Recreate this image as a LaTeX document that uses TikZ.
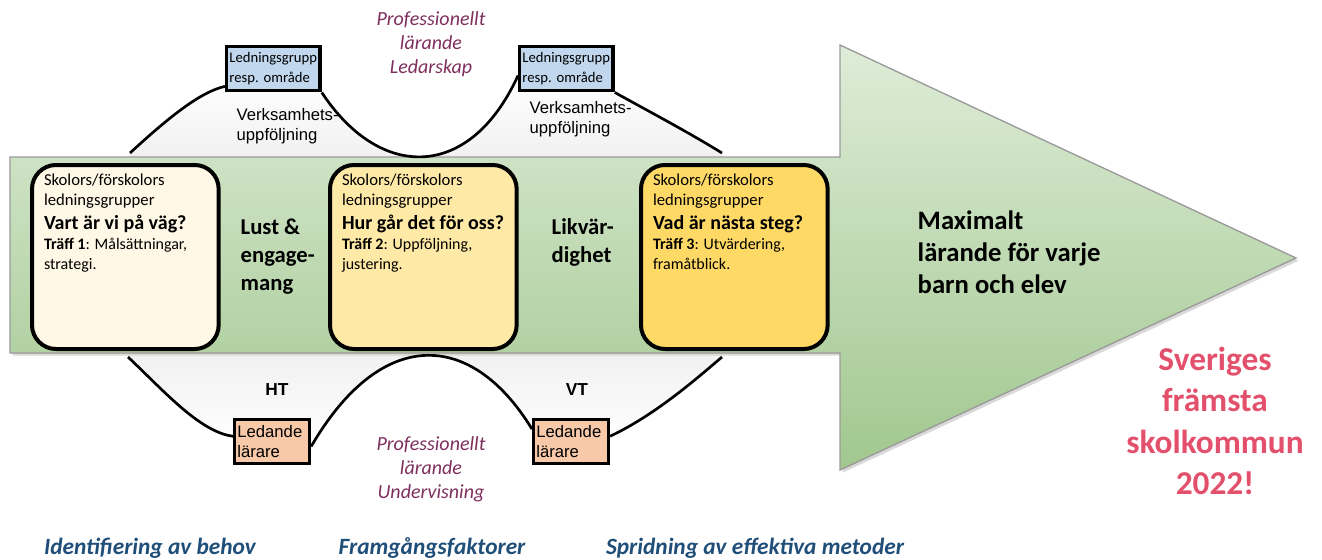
\documentclass[tikz,border=0pt]{standalone}
\usepackage{fontspec}
\setmainfont{Carlito}
\newfontfamily\arialfont{Liberation Sans}
\usepackage{xcolor}
\definecolor{arrowtop}{HTML}{DEECD8}
\definecolor{arrowbot}{HTML}{A1C78E}
\definecolor{arrowline}{HTML}{9A9A9A}
\definecolor{cardone}{HTML}{FFF8E6}
\definecolor{cardtwo}{HTML}{FFE9A6}
\definecolor{cardthree}{HTML}{FFD966}
\definecolor{lgblue}{HTML}{C0D7EE}
\definecolor{llpeach}{HTML}{F7C9A9}
\definecolor{proftext}{HTML}{7E2F5E}
\definecolor{footblue}{HTML}{1F4E79}
\definecolor{goalred}{HTML}{E2506C}

\begin{document}
\begin{tikzpicture}[x=0.75pt, y=-0.75pt,
  card/.style={draw, line width=3pt, rounded corners=18pt, inner xsep=9pt, inner ysep=7pt, anchor=north west},
  smallbox/.style={draw, line width=2.6pt, anchor=north west, inner xsep=2pt, inner ysep=1pt, align=left, minimum height=33pt},
  wave/.style={line width=2pt},
  sidelabel/.style={font=\fontsize{17}{21}\selectfont\bfseries, align=left, anchor=west},
  armlabel/.style={font=\arialfont\fontsize{12.5}{15}\selectfont, align=left, anchor=west},
  termlabel/.style={font=\arialfont\fontsize{13}{15}\selectfont\bfseries},
  proflabel/.style={font=\fontsize{15}{18}\selectfont\itshape, text=proftext, align=center},
  footlabel/.style={font=\fontsize{17.5}{20}\selectfont\bfseries\itshape, text=footblue}]
\useasboundingbox (0,0) rectangle (1322,560);
\newcommand\bodytop{157}
\newcommand\bodybot{353}
\newcommand\headx{840}
\newcommand\cardtext[3]{\begin{minipage}[t][124pt][t]{122pt}\raggedright
  \fontsize{12.5}{15}\selectfont Skolors/förskolors\\ledningsgrupper\par
  \vspace{1pt}{\fontsize{15}{17}\selectfont\bfseries\mbox{#1}\par}
  {\fontsize{12}{15}\selectfont\textbf{Träff #2}: #3\par}
  \end{minipage}}

% grey fields under the waves
\shade[top color=white, bottom color=black!7]
  (130,\bodytop) -- (130,153) .. controls (168,118) and (200,92) .. (225,87)
  -- (322,93) .. controls (380,181) and (470,181) .. (518,73)
  -- (612,93) .. controls (650,112) and (688,132) .. (722,153) -- (722,\bodytop) -- cycle;
\shade[top color=black!7, bottom color=white]
  (128,\bodybot) -- (128,357) .. controls (165,392) and (200,432) .. (233,437)
  -- (310,447) .. controls (380,328) and (470,328) .. (532,430)
  -- (608,437) .. controls (655,415) and (695,380) .. (722,357) -- (722,\bodybot) -- cycle;

% big arrow
\fill[black!15, xshift=2pt, yshift=-2pt]
  (10,\bodytop) -- (\headx,\bodytop) -- (\headx,45) -- (1296,258) -- (\headx,470) -- (\headx,\bodybot) -- (10,\bodybot) -- cycle;
\shade[top color=arrowtop, bottom color=arrowbot, draw=arrowline, line width=1pt]
  (10,\bodytop) -- (\headx,\bodytop) -- (\headx,45) -- (1296,258) -- (\headx,470) -- (\headx,\bodybot) -- (10,\bodybot) -- cycle;

% meetings
\node[card, fill=cardone] (meet1) at (30,163) {\cardtext{Vart är vi på väg?}{1}{Målsättningar,\\strategi.}};
\node[card, fill=cardtwo] (meet2) at (328,163) {\cardtext{Hur går det för oss?}{2}{Uppföljning,\\justering.}};
\node[card, fill=cardthree] (meet3) at (639,163) {\cardtext{Vad är nästa steg?}{3}{Utvärdering,\\framåtblick.}};
\node[sidelabel] (lust) at (236,257) {Lust \&\\engage-\\mang};
\node[sidelabel] (likv) at (547,242) {Likvär-\\dighet};
\node[font=\fontsize{20}{24}\selectfont\bfseries, align=left, anchor=west] (goal) at (913,252) {Maximalt\\lärande för varje\\barn och elev};

% leadership arm
\node[smallbox, fill=lgblue, text width=66pt, font=\fontsize{11}{15}\selectfont] (lg1) at (225,45) {Ledningsgrupp\\resp.\ område};
\node[smallbox, fill=lgblue, text width=66pt, font=\fontsize{11}{15}\selectfont] (lg2) at (518,45) {Ledningsgrupp\\resp.\ område};
\coordinate (tw0) at (130,153);
\coordinate (tw2) at (722,153);
\draw[wave] (tw0) .. controls (168,118) and (200,92) .. (lg1.200);
\draw[wave] (lg1.south east) .. controls (380,181) and (470,181) .. (lg2.188);
\draw[wave] (lg2.south east) .. controls (650,112) and (688,132) .. (tw2);
\node[armlabel] (follow1) at (232,126) {Verksamhets-\\uppföljning};
\node[armlabel] (follow2) at (525,119) {Verksamhets-\\uppföljning};
\node[proflabel] (profled) at (431,44) {Professionellt\\lärande\\Ledarskap};

% teaching arm
\node[smallbox, fill=llpeach, text width=52pt, font=\arialfont\fontsize{12.5}{15}\selectfont] (ll1) at (233,418) {Ledande\\lärare};
\node[smallbox, fill=llpeach, text width=52pt, font=\arialfont\fontsize{12.5}{15}\selectfont] (ll2) at (532,418) {Ledande\\lärare};
\coordinate (bw0) at (128,357);
\coordinate (bw2) at (722,357);
\draw[wave] (bw0) .. controls (165,392) and (200,432) .. (ll1.172);
\draw[wave] (ll1.353) .. controls (380,328) and (470,328) .. (ll2.162);
\draw[wave] (ll2.8) .. controls (655,415) and (695,380) .. (bw2);
\node[termlabel] (ht) at (277,390) {HT};
\node[termlabel] (vt) at (577,390) {VT};
\node[proflabel] (profteach) at (431,469) {Professionellt\\lärande\\Undervisning};

% footer
\node[footlabel] (need) at (150,548) {Identifiering av behov};
\node[footlabel] (success) at (432,548) {Framgångsfaktorer};
\node[footlabel] (spread) at (755,548) {Spridning av effektiva metoder};
\node[font=\fontsize{25}{31}\selectfont\bfseries, text=goalred, align=center] (best) at (1215,421) {Sveriges\\främsta\\skolkommun\\2022!};
\end{tikzpicture}
\end{document}
